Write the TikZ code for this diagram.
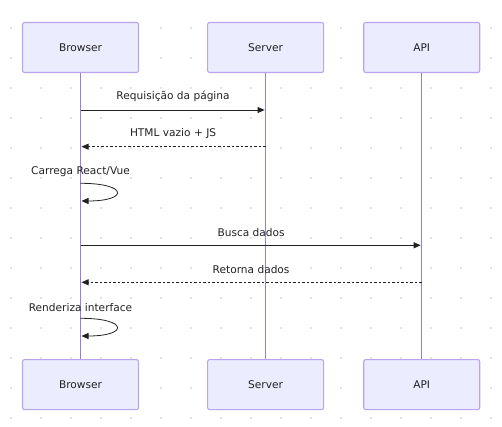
\documentclass[tikz,border=0pt]{standalone}
\usepackage{fontspec}
\setmainfont{DejaVu Sans}
\usepackage{tikz}
\usetikzlibrary{arrows.meta,positioning,calc}

\definecolor{actorfill}{HTML}{ECECFF}
\definecolor{actorline}{HTML}{BBA4EE}
\definecolor{lifecol}{HTML}{9A7BE0}
\definecolor{txt}{HTML}{222222}
\definecolor{dotcol}{HTML}{DADADA}

\begin{document}
\begin{tikzpicture}[
                    x=1pt, y=-1pt,
                    actor/.style={draw=actorline, fill=actorfill, rounded corners=2pt, line width=1.1pt, minimum width=116pt, minimum height=50pt, font=\fontsize{10.6}{12}\selectfont, text=txt},
                    lifeline/.style={draw=lifecol, line width=1.3pt},
                    msg/.style={draw=txt, line width=0.8pt, -{Triangle[length=7pt,width=6pt]}, shorten >=1pt},
                    reply/.style={msg, dash pattern=on 2.5pt off 2pt},
                    lbl/.style={font=\fontsize{10.6}{12}\selectfont, text=txt, inner sep=0pt}
                ]
                    \useasboundingbox (0,0) rectangle (502,427);
                    % background dots
                    \foreach \gx in {11,41,...,491}
                        \foreach \gy in {28,58,...,418}
                            \fill[dotcol] (\gx,\gy) circle (1.2pt);

                    % actors
                    \node[actor] (browser) at (80.5,47.5) {Browser};
                    \node[actor, right=68pt of browser] (server) {Server};
                    \node[actor, right=39pt of server] (api) {API};
                    \node[actor, below=286pt of browser] (browserb) {Browser};
                    \node[actor, below=286pt of server] (serverb) {Server};
                    \node[actor, below=286pt of api] (apib) {API};

                    \draw[lifeline] (browser) -- (browserb);
                    \draw[lifeline] (server) -- (serverb);
                    \draw[lifeline] (api) -- (apib);

                    % message points
                    \coordinate (b1) at (browser |- 0,110);
                    \coordinate (s1) at (server |- 0,110);
                    \coordinate (s2) at (server |- 0,146.7);
                    \coordinate (b2) at (browser |- 0,146.7);
                    \coordinate (c1a) at (browser |- 0,183.3);
                    \coordinate (c1b) at (browser |- 0,201);
                    \coordinate (b3) at (browser |- 0,245.3);
                    \coordinate (a3) at (api |- 0,245.3);
                    \coordinate (a4) at (api |- 0,282.3);
                    \coordinate (b4) at (browser |- 0,282.3);
                    \coordinate (c2a) at (browser |- 0,318.3);
                    \coordinate (c2b) at (browser |- 0,336);

                    % messages
                    \draw[msg] (b1) -- node[lbl, above=8pt] (req) {Requisição da página} (s1);
                    \draw[reply] (s2) -- node[lbl, above=8pt] (html) {HTML vazio + JS} (b2);
                    \draw[msg] (c1a) .. controls +(48,0) and +(48,0) .. (c1b);
                    \node[lbl, above=6pt of c1a] (carrega) {Carrega React/Vue};
                    \draw[msg] (b3) -- node[lbl, above=8pt] (busca) {Busca dados} (a3);
                    \draw[reply] (a4) -- node[lbl, above=8pt] (retorna) {Retorna dados} (b4);
                    \draw[msg] (c2a) .. controls +(48,0) and +(48,0) .. (c2b);
                    \node[lbl, above=6pt of c2a] (renderiza) {Renderiza interface};
                \end{tikzpicture}
\end{document}
